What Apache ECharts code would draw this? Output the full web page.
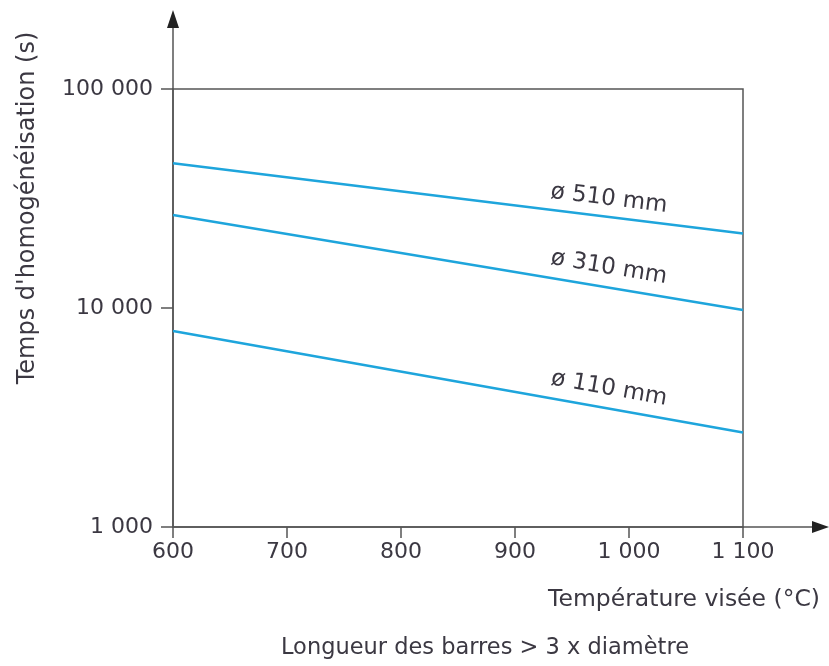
<!DOCTYPE html>
<html><head><meta charset="utf-8">
<script src="https://cdn.jsdelivr.net/npm/echarts@6/dist/echarts.min.js"></script>
<style>html,body{margin:0;padding:0;background:#fff}#c{width:829px;height:666px}</style>
</head><body><div id="c"></div>
<script>
// Data
const temperatures = [600, 1100];            // °C
const d510 = [45800, 21900];                 // s
const d310 = [26600, 9800];
const d110 = [7850, 2700];
const curveLabels = ['ø 510 mm', 'ø 310 mm', 'ø 110 mm'];
const xTicks = [600, 700, 800, 900, 1000, 1100];
const yTicks = [1000, 10000, 100000];
const xName = 'Température visée (°C)';
const yName = "Temps d'homogénéisation (s)";
const caption = 'Longueur des barres > 3 x diamètre';

const FONT = 'DejaVu Sans';
const TXT = '#3b3842';
const AX = '#555';
const LINE = '#1ea5dc';

function fmt(v){ return String(v).replace(/\B(?=(\d{3})+(?!\d))/g, ' '); }

const chart = echarts.init(document.getElementById('c'));
const curves = [d510, d310, d110];
const option = {
  animation: false,
  grid: { left: 173, right: 86, top: 89, bottom: 139, show: true, borderColor: AX, borderWidth: 1.5, backgroundColor: 'transparent' },
  xAxis: {
    type: 'value', min: xTicks[0], max: xTicks[xTicks.length-1], interval: 100,
    axisLine: { show: true, lineStyle: { color: AX, width: 1.5 } },
    axisTick: { show: true, length: 11, lineStyle: { color: AX, width: 1.5 } },
    axisLabel: { formatter: fmt, fontFamily: FONT, fontSize: 22, color: TXT, margin: 14 },
    splitLine: { show: false }
  },
  yAxis: {
    type: 'log', logBase: 10, min: yTicks[0], max: yTicks[yTicks.length-1],
    axisLine: { show: true, lineStyle: { color: AX, width: 1.5 } },
    axisTick: { show: true, length: 12, lineStyle: { color: AX, width: 1.5 } },
    axisLabel: { formatter: fmt, fontFamily: FONT, fontSize: 22, color: TXT, margin: 20 },
    splitLine: { show: false }, minorTick: { show: false }
  },
  series: curves.map((d, i) => ({
    type: 'line', name: curveLabels[i], showSymbol: false, symbol: 'none',
    data: temperatures.map((t, j) => [t, d[j]]),
    lineStyle: { color: LINE, width: 2.6 }
  }))
};
chart.setOption(option);

function p(x, y){ return chart.convertToPixel({gridIndex: 0}, [x, y]); }
const o = p(xTicks[0], yTicks[0]);
const yTop = p(xTicks[0], yTicks[yTicks.length-1]);
const xEnd = p(xTicks[xTicks.length-1], yTicks[0]);
const g = [];
// axis extensions with arrows
g.push({ type: 'line', shape: { x1: o[0], y1: yTop[1], x2: o[0], y2: 24 }, style: { stroke: AX, lineWidth: 1.5 } });
g.push({ type: 'polygon', shape: { points: [[o[0], 10], [o[0]-6, 28], [o[0]+6, 28]] }, style: { fill: '#222' } });
g.push({ type: 'line', shape: { x1: xEnd[0], y1: o[1], x2: 818, y2: o[1] }, style: { stroke: AX, lineWidth: 1.5 } });
g.push({ type: 'polygon', shape: { points: [[829, o[1]], [812, o[1]-6], [812, o[1]+6]] }, style: { fill: '#222' } });
// curve labels
const offs = [18, 20, 20];
curves.forEach((d, i) => {
  const a = p(temperatures[0], d[0]), b = p(temperatures[1], d[1]);
  const ang = Math.atan2(b[1]-a[1], b[0]-a[0]);
  const cx = 609;
  const t = (cx - a[0]) / (b[0]-a[0]);
  const cy = a[1] + t*(b[1]-a[1]) - offs[i];
  g.push({ type: 'text', x: cx, y: cy, rotation: -ang, originX: 0, originY: 0,
    style: { text: curveLabels[i], font: '23px ' + FONT, fill: TXT, align: 'center', verticalAlign: 'middle' } });
});
g.push({ type: 'text', x: 28, y: 208, rotation: Math.PI/2,
  style: { text: yName, font: '24px ' + FONT, fill: TXT, align: 'center', verticalAlign: 'middle' } });
g.push({ type: 'text', x: 820, y: 600,
  style: { text: xName, font: '23.5px ' + FONT, fill: TXT, align: 'right', verticalAlign: 'middle' } });
g.push({ type: 'text', x: 485, y: 648,
  style: { text: caption, font: '22.5px ' + FONT, fill: TXT, align: 'center', verticalAlign: 'middle' } });
chart.setOption({ graphic: g });
</script></body></html>
